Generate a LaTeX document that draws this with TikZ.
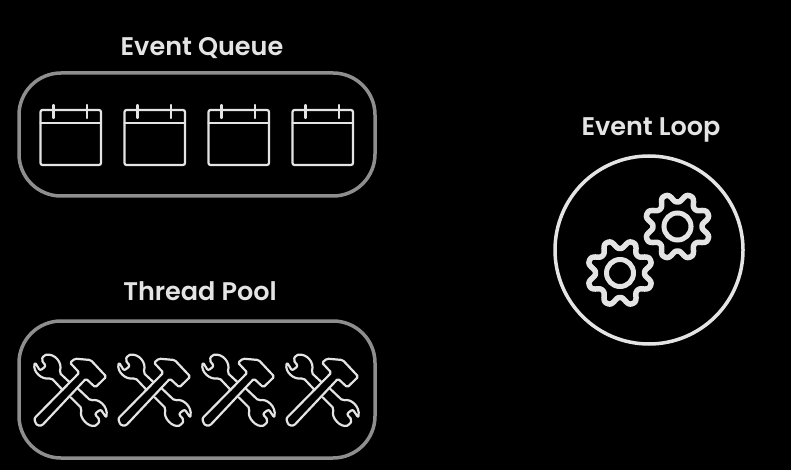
\documentclass[tikz,border=0pt]{standalone}
\usepackage{fontspec}
\setmainfont{Poppins SemiBold}
\definecolor{iconline}{HTML}{E4E4E4}
\definecolor{boxline}{HTML}{8E8E8E}
\tikzset{
  title/.style={text=iconline,font=\fontsize{25.5}{28}\selectfont,inner sep=0pt,anchor=base},
  groupbox/.style={draw=boxline,line width=3.5pt},
  iconpath/.style={draw=iconline,line width=2.2pt,line join=round,line cap=round},
}
\newcommand{\gearicon}[2]{
\draw[draw=iconline,line width=5.5pt,line join=round] plot[domain=0:360,samples=241] ({#1+(28.8-4.6*cos(8*\x)+0.4*cos(24*\x))*cos(\x)},{#2+(28.8-4.6*cos(8*\x)+0.4*cos(24*\x))*sin(\x)}) -- cycle;
\draw[draw=iconline,line width=5pt] (#1,#2) circle (13.5);
}
\begin{document}
\begin{tikzpicture}[x=1pt,y=-1pt]
\useasboundingbox (0,0) rectangle (791,470);
\fill[black] (0,0) rectangle (791,470);
\node[title] (queuelabel) at (202,56) {Event Queue};
\node[title] (looplabel) at (651,136) {Event Loop};
\node[title] (poollabel) at (200,300) {Thread Pool};
% groups
\draw[groupbox,rounded corners=42pt] (19,73) rectangle (375,196);
\draw[groupbox,rounded corners=42pt] (19,321) rectangle (375,458);
\draw[draw=iconline,line width=3.5pt] (649,250) circle (94);
% calendars
\foreach \x in {0,84,168,252}
{
\draw[iconpath,rounded corners=2pt,shift={(\x,0)}] (40.5,110) rectangle (101,165);
\draw[iconpath,shift={(\x,0)}] (40.5,123) -- (101,123);
\draw[iconpath,shift={(\x,0)}] (53.5,105) -- (53.5,118);
\draw[iconpath,shift={(\x,0)}] (87,105) -- (87,118);
}
% tools
\foreach \x in {0,84,168,252}
{
\begin{scope}[shift={(20+\x,330)},scale=1/3]
\draw[iconpath,rounded corners=1.5pt] (178,128) -- (150,98) -- (165,86) -- (212,90) -- (259,140) -- (226,172) -- (198,146) -- (72,280) .. controls (62,290) and (50,286) .. (46,276) .. controls (43,268) and (44,264) .. (50,258) -- cycle;
\draw[iconpath,rounded corners=2pt] (148,156) -- (118,128) .. controls (128,98) and (105,70) .. (72,75) -- (64,90) -- (78,108) -- (60,122) -- (45,97) .. controls (38,125) and (65,150) .. (94,144) -- (128,180);
\draw[iconpath,rounded corners=2pt] (174,176) -- (212,212) .. controls (236,206) and (264,228) .. (259,263) -- (242,238) -- (224,252) -- (240,270) -- (232,285) .. controls (205,294) and (176,262) .. (186,236) -- (152,202);
\end{scope}
}
% gears
\gearicon{620}{273}
\gearicon{677.5}{226.5}
\end{tikzpicture}
\end{document}
